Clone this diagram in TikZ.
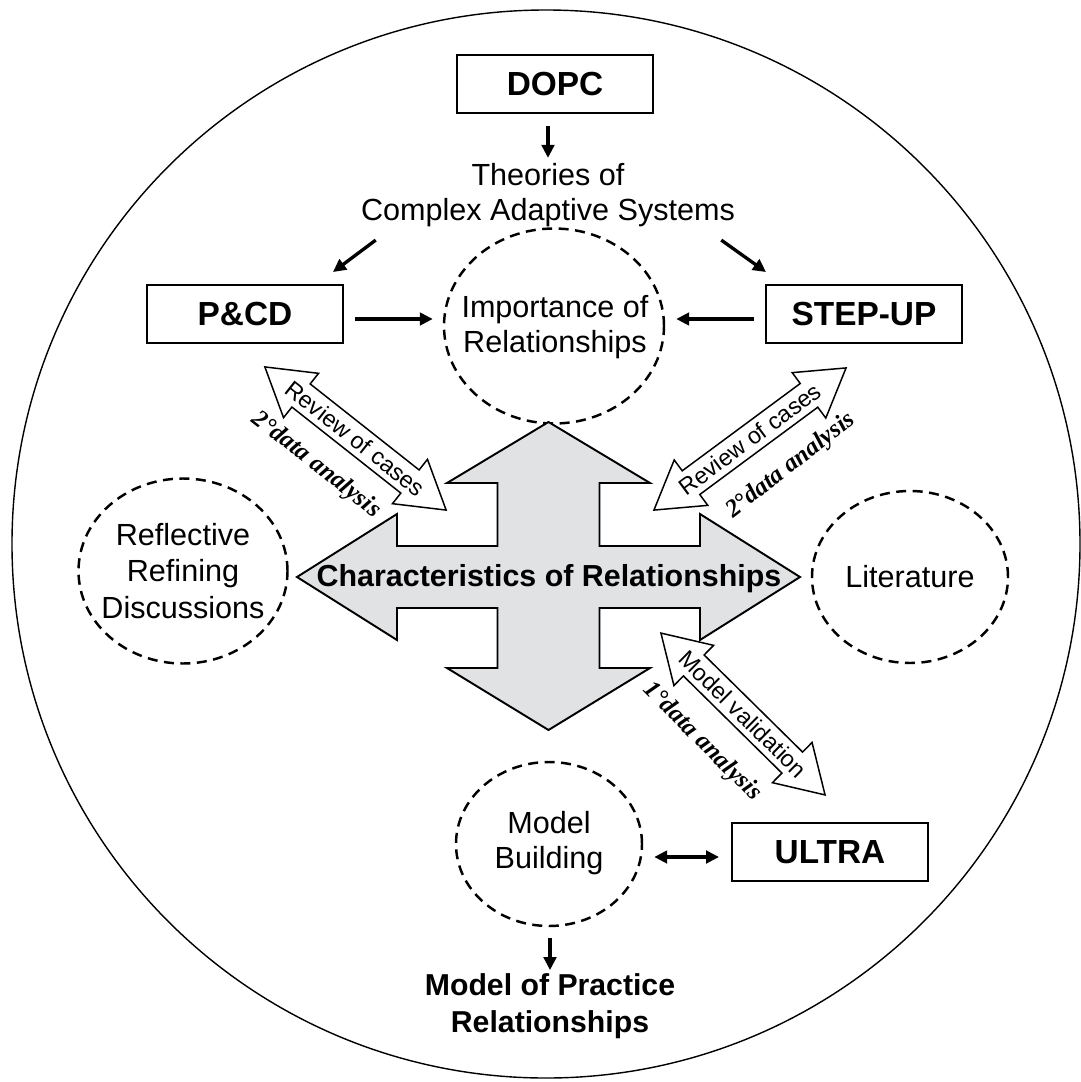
\documentclass[tikz,border=0pt]{standalone}
\usepackage{fontspec}
\setmainfont{Liberation Sans}
\newfontfamily\serifbi{Liberation Serif}
\usetikzlibrary{shapes.geometric,shapes.arrows,arrows.meta}
\definecolor{crossgray}{RGB}{225,226,228}

\begin{document}
\begin{tikzpicture}[x=0.2mm,y=-0.2mm]
\tikzstyle{box} = [rectangle, draw=black, line width=1.1pt, minimum width=39.2mm, minimum height=11.6mm, font=\fontsize{19}{22}\selectfont\bfseries]
\tikzstyle{bubble} = [ellipse, draw=black, line width=1.4pt, dash pattern=on 2mm off 1.3mm]
\tikzstyle{txt} = [align=center, inner sep=0pt, font=\fontsize{17.4}{19.9}\selectfont]
\tikzstyle{arr} = [line width=1.9pt, -{Triangle[length=2.6mm,width=2.5mm]}]
\tikzstyle{arrboth} = [line width=1.9pt, {Triangle[length=2.6mm,width=2.5mm]}-{Triangle[length=2.6mm,width=2.5mm]}]
\tikzstyle{dblarr} = [double arrow, draw=black, fill=white, line width=0.85pt, inner sep=2.8mm, double arrow head extend=2.7mm, double arrow tip angle=63]
\tikzstyle{arrtxt} = [inner sep=0pt, font=\fontsize{13.3}{15}\selectfont]
\tikzstyle{datalbl} = [inner sep=0pt, font=\fontsize{14.2}{16}\serifbi\bfseries\itshape]
\useasboundingbox (0,0) rectangle (1081,1082);
\draw[line width=0.8pt] (546,544) circle [radius=106.8mm];

% boxes and text
\node[box] (dopc) at (555,84) {DOPC};
\node[txt] (theo) at (548,195) {Theories of\\Complex Adaptive Systems};
\node[box] (pcd) at (245,314) {P\&CD};
\node[box] (su) at (864,314) {STEP-UP};
\node[box] (ultra) at (830,852) {ULTRA};
\node[txt, font=\fontsize{17.2}{21}\selectfont\bfseries] (mop) at (550,1006) {Model of Practice\\Relationships};

% dashed bubbles
\node[bubble, minimum width=44mm, minimum height=39mm] (imp) at (554,326) {};
\node[txt] (impt) at (555,327) {Importance of\\Relationships};
\node[bubble, minimum width=41.8mm, minimum height=37mm] (refl) at (183,571) {};
\node[txt, font=\fontsize{17.4}{20.7}\selectfont] (reflt) at (refl) {Reflective\\Refining\\Discussions};
\node[bubble, minimum width=39.2mm, minimum height=34.4mm] (lit) at (910,577) {};
\node[txt] (litt) at (lit) {Literature};
\node[bubble, minimum width=37.2mm, minimum height=32.8mm] (mb) at (549,844) {};
\node[txt] (mbt) at (549,843) {Model\\Building};

% big cross
\filldraw[fill=crossgray, line width=1.1pt, line join=miter] (548.5,422) -- (650,483) -- (599.5,483) -- (599.5,546) -- (700,546) -- (700,514) -- (800,577) -- (700,640) -- (700,608) -- (599.5,608) -- (599.5,668) -- (650,668) -- (548.5,730) -- (447,668) -- (497.5,668) -- (497.5,608) -- (397,608) -- (397,640) -- (297,577) -- (397,514) -- (397,546) -- (497.5,546) -- (497.5,483) -- (447,483) -- cycle;
\node[inner sep=0pt, font=\fontsize{17.3}{20}\selectfont\bfseries] (chr) at (549,579) {Characteristics of Relationships};

% double arrows
\node[dblarr, minimum height=46.2mm, rotate=-38.3] (rv1) at (355.5,438.5) {};
\node[arrtxt, rotate=-38.3] (rv1t) at (rv1) {Review of cases};
\node[datalbl, rotate=-38.3] (da1) at (316,465) {2°data analysis};
\node[dblarr, minimum height=47.8mm, rotate=36.5] (rv2) at (750,439) {};
\node[arrtxt, rotate=36.5] (rv2t) at (rv2) {Review of cases};
\node[datalbl, rotate=38] (da2) at (791,466) {2°data analysis};
\node[dblarr, minimum height=46.1mm, rotate=-44.6] (mv) at (743,714) {};
\node[arrtxt, rotate=-44.6] (mvt) at (mv) {Model validation};
\node[datalbl, rotate=-45] (da3) at (702,742) {1°data analysis};

% arrows
\draw[arr, shorten <=2.4mm, shorten >=1mm] (dopc.south -| theo.north) -- (theo.north);
\draw[arr] ([shift={(15,13)}]theo.south west) -- ([shift={(-11,-12)}]pcd.north east);
\draw[arr] ([shift={(-14,13)}]theo.south east) -- ([shift={(1,-12)}]su.north west);
\draw[arr] ([shift={(11,5)}]pcd.east) -- ([shift={(-10,-7)}]imp.west);
\draw[arr] ([shift={(-11,5)}]su.west) -- ([shift={(11,-7)}]imp.east);
\draw[arrboth] ([shift={(11,13)}]mb.east) -- ([shift={(-12,5)}]ultra.west);
\draw[arr] ([shift={(1,11)}]mb.south) -- ([shift={(0,-3)}]mop.north);
\end{tikzpicture}
\end{document}
